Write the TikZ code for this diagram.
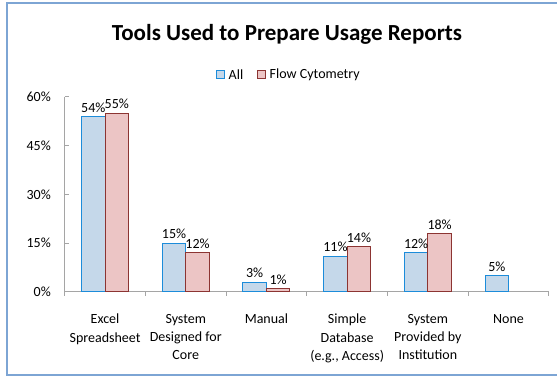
\documentclass[tikz,border=0pt]{standalone}
\usepackage{fontspec}
\setmainfont{Carlito}
\definecolor{frameblue}{RGB}{125,165,212}
\definecolor{allfill}{RGB}{197,216,234}
\definecolor{alldraw}{RGB}{28,140,218}
\definecolor{fcfill}{RGB}{236,197,197}
\definecolor{fcdraw}{RGB}{140,52,50}
\definecolor{axisgray}{RGB}{165,165,165}
\tikzset{
  allbar/.style={fill=allfill,draw=alldraw,line width=1pt},
  fcbar/.style={fill=fcfill,draw=fcdraw,line width=1pt},
  vallabel/.style={anchor=south,inner sep=0pt,font=\fontsize{14}{16}\selectfont},
  catlabel/.style={anchor=north,inner sep=0pt,align=center,font=\fontsize{14}{18.3}\selectfont},
  ylabel/.style={anchor=east,inner sep=0pt,font=\fontsize{14}{16}\selectfont},
  axisline/.style={draw=axisgray,line width=1pt},
}
\begin{document}
\begin{tikzpicture}[x=1pt,y=1pt]
\useasboundingbox (0,0) rectangle (557,377);
% frame
\draw[frameblue,line width=2pt] (7,374) rectangle (565,2);
% title
\node[font=\fontsize{23}{26}\selectfont\bfseries] (title) at (287,343) {Tools Used to Prepare Usage Reports};
% legend
\node[allbar,line width=0.8pt,minimum width=8pt,minimum height=8.5pt,inner sep=0pt] (legA) at (220.6,302.5) {};
\node[anchor=west,inner sep=0pt,font=\fontsize{14}{16}\selectfont] (legAt) at (228.5,302.5) {All};
\node[fcbar,line width=0.8pt,minimum width=8pt,minimum height=8.5pt,inner sep=0pt] (legF) at (261,302.5) {};
\node[anchor=west,inner sep=0pt,font=\fontsize{14}{16}\selectfont] (legFt) at (269.5,302.5) {Flow Cytometry};
% axes: 0% at y=85, 3.25 per percent
\foreach \v/\lab in {0/0\%,15/15\%,30/30\%,45/45\%,60/60\%}{
  \draw[axisline] (64.7,{85+3.25*\v}) -- (68.5,{85+3.25*\v});
  \node[ylabel] (yl\v) at (51,{85+3.25*\v}) {\lab};
}
\draw[axisline] (64.7,85) -- (64.7,280);
\draw[axisline] (64.7,85) -- (549,85);
\foreach \i in {0,...,6}{
  \draw[axisline] ({64.7+80.7*\i},85) -- ({64.7+80.7*\i},80.5);
}
% bars
\def\bw{23.5}
\foreach \i/\a/\f in {0/54/55,1/15/12,2/3/1,3/11/14,4/12/18}{
  \pgfmathsetmacro{\c}{64.7+80.7*(\i+0.5)}
  \draw[allbar] ({\c-\bw},85) rectangle (\c,{85+3.25*\a});
  \draw[fcbar] (\c,85) rectangle ({\c+\bw},{85+3.25*\f});
  \node[vallabel] (va\i) at ({\c-\bw/2},{85+3.25*\a+4}) {\a\%};
  \node[vallabel] (vf\i) at ({\c+\bw/2},{85+3.25*\f+4}) {\f\%};
}
\pgfmathsetmacro{\c}{64.7+80.7*5.5}
\draw[allbar] ({\c-\bw},85) rectangle (\c,{85+3.25*5});
\node[vallabel] (va5) at ({\c-\bw/2},{85+3.25*5+4}) {5\%};
% category labels
\foreach \i/\t in {0/{Excel\\Spreadsheet},1/{System\\Designed for\\Core},2/{Manual},3/{Simple\\Database\\(e.g., Access)},4/{System\\Provided by\\Institution},5/{None}}{
  \node[catlabel] (cat\i) at ({64.7+80.7*(\i+0.5)},63) {\t};
}
\end{tikzpicture}
\end{document}
